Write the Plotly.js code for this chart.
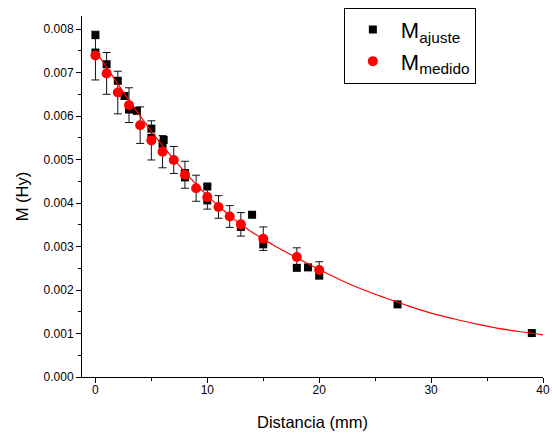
<!DOCTYPE html>
<html>
<head>
<meta charset="utf-8">
<script src="https://cdn.plot.ly/plotly-3.0.1.min.js"></script>
<style>html,body{margin:0;padding:0;background:#fff;}#chart{width:552px;height:434px;}</style>
</head>
<body>
<div id="chart"></div>
<script>
// M ajuste (black squares)
var ajusteX = [0, 0, 1, 2, 2.6, 3, 3.7, 5, 5, 6.1, 6, 8, 8, 10, 10, 13, 14, 15, 18, 19, 20, 27, 39];
var ajusteY = [0.00786, 0.00746, 0.00719, 0.00681, 0.00646, 0.00615, 0.00612, 0.00571, 0.00550, 0.00545, 0.00536, 0.00469, 0.00459, 0.00438, 0.00406, 0.00345, 0.00373, 0.00305, 0.00251, 0.00252, 0.00233, 0.00167, 0.00101];
// M medido (red circles with error bars)
var medidoX = [0, 1, 2, 3, 4, 5, 6, 7, 8, 9, 10, 11, 12, 13, 15, 18, 20];
var medidoY = [0.00739, 0.00698, 0.00654, 0.00625, 0.00579, 0.00544, 0.00518, 0.00499, 0.00465, 0.00434, 0.00414, 0.00391, 0.00369, 0.00351, 0.00318, 0.00276, 0.00246];
var medidoErr = [0.00056, 0.00048, 0.00049, 0.00040, 0.00042, 0.00045, 0.00037, 0.00031, 0.00031, 0.00030, 0.00028, 0.00026, 0.00025, 0.00027, 0.00027, 0.00021, 0.00019];
// fitted curve
var fitX = [0, 1, 2, 3, 4, 5, 6, 7, 8, 9, 10, 11, 12, 13, 14, 15, 16, 18, 20, 22, 24, 26, 28, 30, 32, 34, 36, 38, 40];
var fitY = [0.00750, 0.00712, 0.00674, 0.00636, 0.00600, 0.00565, 0.00532, 0.00501, 0.00471, 0.00443, 0.00417, 0.00393, 0.00371, 0.00351, 0.00333, 0.00317, 0.00302, 0.00274, 0.00247, 0.00222, 0.00200, 0.00181, 0.00163, 0.00147, 0.00134, 0.00122, 0.00112, 0.00104, 0.00097];

var font = "Liberation Sans, Arial, sans-serif";
var traces = [
  {x: ajusteX, y: ajusteY, type: 'scatter', mode: 'markers', name: 'M<sub>ajuste</sub>',
   marker: {symbol: 'square', size: 8, color: '#000000'}},
  {x: medidoX, y: medidoY, type: 'scatter', mode: 'markers', name: 'M<sub>medido</sub>',
   marker: {symbol: 'circle', size: 10, color: '#ff0000'},
   error_y: {type: 'data', array: medidoErr, visible: true, color: '#111111', thickness: 1, width: 4}},
  {x: fitX, y: fitY, type: 'scatter', mode: 'lines', showlegend: false,
   line: {color: '#ff0000', width: 1.2, shape: 'spline'}}
];
var layout = {
  width: 552, height: 434,
  margin: {l: 82, r: 9, t: 15, b: 57},
  paper_bgcolor: '#ffffff', plot_bgcolor: '#ffffff',
  font: {family: font, size: 12, color: '#000'},
  showlegend: true,
  legend: {x: 0.568, y: 1.02, xanchor: 'left', yanchor: 'top', bordercolor: '#000', borderwidth: 1,
           bgcolor: '#fff', font: {family: font, size: 22}, itemwidth: 46, tracegroupgap: 0},
  xaxis: {range: [-1.2, 40], dtick: 10, tick0: 0, showgrid: false, zeroline: false,
          showline: true, linecolor: '#000', linewidth: 1, ticks: 'outside', ticklen: 5, tickcolor: '#000',
          minor: {dtick: 5, ticks: 'outside', ticklen: 3, tickcolor: '#000'},
          tickfont: {family: font, size: 12}, ticklabelstandoff: -3,
          title: {text: 'Distancia (mm)', font: {family: font, size: 16.5}, standoff: 20}},
  yaxis: {range: [0, 0.0083], dtick: 0.001, tick0: 0, tickformat: '.3f', showgrid: false, zeroline: false,
          showline: true, linecolor: '#000', linewidth: 1, ticks: 'outside', ticklen: 5, tickcolor: '#000',
          minor: {dtick: 0.0005, ticks: 'outside', ticklen: 3, tickcolor: '#000'},
          tickfont: {family: font, size: 12},
          title: {text: 'M (Hy)', font: {family: font, size: 16.5}, standoff: 10}}
};
Plotly.newPlot('chart', traces, layout, {displayModeBar: false, staticPlot: true});
</script>
</body>
</html>
